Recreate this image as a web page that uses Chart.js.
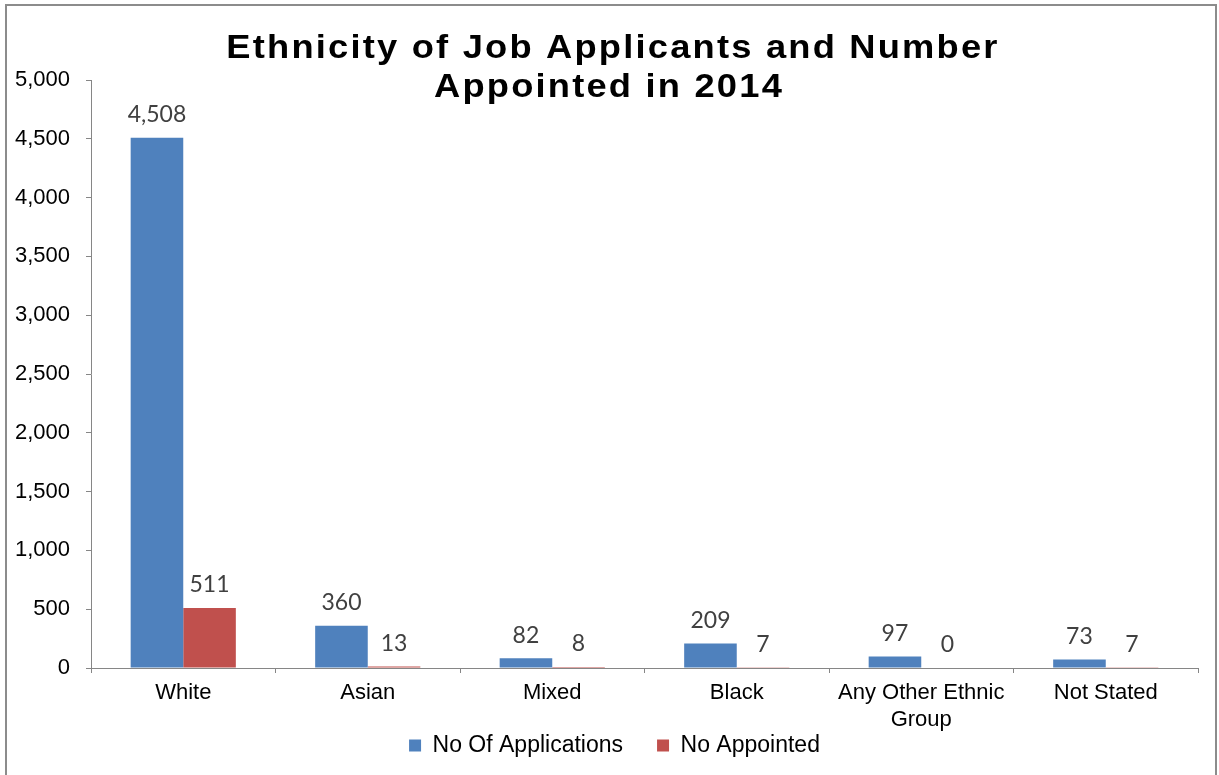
<!DOCTYPE html>
<html>
<head>
<meta charset="utf-8">
<title>Ethnicity of Job Applicants</title>
<script src="https://cdn.jsdelivr.net/npm/chart.js@4.4.1/dist/chart.umd.min.js"></script>
<style>
  body { margin: 0; background: #fff; }
  .frame {
    position: absolute; left: 5px; top: 4px;
    width: 1208px; height: 771px;
    border: 2px solid #8c8c8c; border-bottom: none;
  }
</style>
</head>
<body>
<div class="frame"><canvas id="myChart" width="1208" height="771"></canvas></div>
<script>
const titleLines = ['Ethnicity of Job Applicants and Number', 'Appointed in 2014']
const categories = ['White', 'Asian', 'Mixed', 'Black', ['Any Other Ethnic', 'Group'], 'Not Stated']
const applications = [4508, 360, 82, 209, 97, 73]
const appointed = [511, 13, 8, 7, 0, 7]
const yTicks = [0, 500, 1000, 1500, 2000, 2500, 3000, 3500, 4000, 4500, 5000]

const sans = '"Liberation Sans", Arial, sans-serif'
const axisColor = '#868686'

// wide bold heading; it sits partly over the top of the plot
const heading = {
    id: 'heading',
    afterDraw(chart) {
        const ctx = chart.ctx
        const sx = 1.1
        ctx.save()
        ctx.font = 'bold 33px ' + sans
        ctx.letterSpacing = '2px'
        ctx.fillStyle = '#000'
        ctx.textAlign = 'center'
        ctx.textBaseline = 'alphabetic'
        ctx.scale(sx, 1)
        ctx.fillText(titleLines[0], (chart.width / 2 + 2) / sx, 52)
        ctx.fillText(titleLines[1], (chart.width / 2 - 2) / sx, 91)
        ctx.restore()
    }
}

// numbers over each bar, placed from the bar elements themselves
const barValues = {
    id: 'barValues',
    afterDatasetsDraw(chart) {
        const ctx = chart.ctx
        ctx.save()
        ctx.font = '23px Lato, "Open Sans", sans-serif'
        ctx.fillStyle = '#404040'
        ctx.textAlign = 'center'
        ctx.textBaseline = 'middle'
        chart.data.datasets.forEach((ds, i) => {
            chart.getDatasetMeta(i).data.forEach((bar, j) => {
                ctx.fillText(ds.data[j].toLocaleString('en-US'), bar.x, bar.y - 23)
            })
        })
        ctx.restore()
    }
}

// the x axis box is kept short so the legend sits close; let its labels run below it,
// and nudge the legend row a little to the right
const placement = {
    id: 'placement',
    afterLayout(chart) {
        chart.scales.x.bottom = chart.height
        chart.legend.left += 12
        chart.legend.right += 12
    }
}

const ctx = document.getElementById('myChart').getContext('2d')
const myChart = new Chart(ctx, {
    type: 'bar',
    data: {
        labels: categories,
        datasets: [{
            label: 'No Of Applications',
            data: applications,
            backgroundColor: '#4F81BD'
        }, {
            label: 'No Appointed',
            data: appointed,
            backgroundColor: '#C0504D'
        }]
    },
    options: {
        responsive: false,
        animation: false,
        categoryPercentage: 0.57,
        barPercentage: 1,
        layout: { padding: { left: 0, right: 17, top: 74, bottom: 10 } },
        plugins: {
            tooltip: { enabled: false },
            title: { display: false },
            legend: {
                position: 'bottom',
                labels: {
                    color: '#000',
                    boxWidth: 12,
                    boxHeight: 12,
                    padding: 34,
                    font: { family: sans, size: 23 }
                }
            }
        },
        scales: {
            x: {
                afterFit: s => { s.height = 32 },
                grid: { drawOnChartArea: false, tickLength: 5, color: axisColor },
                border: { color: axisColor },
                ticks: {
                    color: '#000',
                    padding: 7,
                    maxRotation: 0,
                    autoSkip: false,
                    font: { family: sans, size: 22, lineHeight: 1.2 }
                }
            },
            y: {
                min: 0,
                max: 5000,
                afterBuildTicks: axis => { axis.ticks = yTicks.map(v => ({ value: v })) },
                afterFit: s => { s.width = 84 },
                grid: { drawOnChartArea: false, tickLength: 5, color: axisColor },
                border: { color: axisColor },
                ticks: {
                    color: '#000',
                    padding: 16,
                    font: { family: sans, size: 22 },
                    callback: v => v.toLocaleString('en-US')
                }
            }
        }
    },
    plugins: [barValues, heading, placement]
});
</script>
</body>
</html>
